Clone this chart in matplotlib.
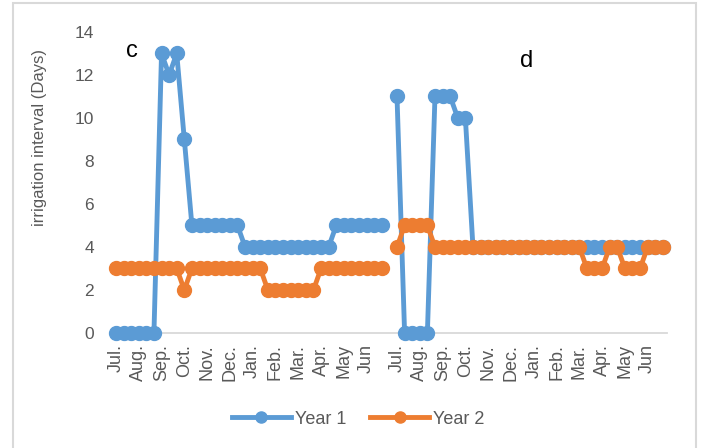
import matplotlib.pyplot as plt
import matplotlib.patches as mpatches
import numpy as np

# Months shown under each of the two panels (3 ten-day periods per month)
months = ['Jul.', 'Aug.', 'Sep.', 'Oct.', 'Nov.', 'Dec.',
          'Jan.', 'Feb.', 'Mar.', 'Apr.', 'May', 'Jun']

# Panel c
year1_c = [0, 0, 0, 0, 0, 0, 13, 12, 13, 9, 5, 5, 5, 5, 5, 5, 5,
           4, 4, 4, 4, 4, 4, 4, 4, 4, 4, 4, 4, 5, 5, 5, 5, 5, 5, 5]
year2_c = [3, 3, 3, 3, 3, 3, 3, 3, 3, 2, 3, 3, 3, 3, 3, 3, 3, 3, 3, 3,
           2, 2, 2, 2, 2, 2, 2, 3, 3, 3, 3, 3, 3, 3, 3, 3]

# Panel d
year1_d = [11, 0, 0, 0, 0, 11, 11, 11, 10, 10, 4, 4, 4, 4, 4, 4, 4, 4,
           4, 4, 4, 4, 4, 4, 4, 4, 4, 4, 4, 4, 4, 4, 4, 4, 4, 4]
year2_d = [4, 5, 5, 5, 5, 4, 4, 4, 4, 4, 4, 4, 4, 4, 4, 4, 4, 4, 4, 4,
           4, 4, 4, 4, 4, 3, 3, 3, 4, 4, 3, 3, 3, 4, 4, 4]

blue = '#5B9BD5'
orange = '#ED7D31'
grey = '#595959'

plt.rcParams['font.family'] = ['Liberation Sans', 'DejaVu Sans']

# join the two panels on one category axis with an empty slot between
gap = [np.nan]
year1 = np.array(year1_c + gap + year1_d, dtype=float)
year2 = np.array(year2_c + gap + year2_d, dtype=float)
x = np.arange(len(year1))

n = len(year1_c)
tick_pos = list(range(0, n, 3)) + list(range(n + 1, 2 * n + 1, 3))
tick_lab = months + months

fig = plt.figure(figsize=(7.01, 4.48), dpi=100)
ax = fig.add_axes([0.160, 0.2567, 0.791, 0.672])

ax.plot(x, year1, color=blue, lw=3.5, marker='o', ms=10, label='Year 1',
        clip_on=False, solid_joinstyle='round')
ax.plot(x, year2, color=orange, lw=3.5, marker='o', ms=10, label='Year 2',
        clip_on=False, solid_joinstyle='round')

ax.set_xlim(-0.5, len(x) - 0.5)
ax.set_ylim(0, 14)
ax.set_yticks(range(0, 15, 2))
ax.set_xticks(tick_pos)
ax.set_xticklabels(tick_lab, rotation=90, va='top', ha='center')
ax.tick_params(axis='x', length=0, pad=8, labelsize=13, labelcolor=grey)
ax.tick_params(axis='y', length=0, pad=13, labelsize=12.5, labelcolor=grey)

for s in ['top', 'right', 'left']:
    ax.spines[s].set_visible(False)
ax.spines['bottom'].set_color('#D9D9D9')
ax.spines['bottom'].set_linewidth(1.3)
ax.spines['bottom'].set_zorder(0)

# panel letters
ax.text(2.1, 13.1, 'c', fontsize=17, ha='center', va='center', color='black')
ax.text(54.0, 12.65, 'd', fontsize=17, ha='center', va='center', color='black')

fig.text(40 / 701, 1 - 137 / 448, 'irrigation interval (Days)', rotation=90,
         ha='center', va='center', fontsize=12, color=grey)

fig.legend(loc='center', bbox_to_anchor=(358 / 701, 1 - 419 / 448), ncol=2,
           frameon=False, fontsize=13, handlelength=3.3, handletextpad=0.2,
           columnspacing=1.3, markerscale=0.8, labelcolor=grey)

# chart area border
border = mpatches.Rectangle((13 / 701, -0.05), 683 / 701, 1.05 - 3 / 448,
                            transform=fig.transFigure, fill=False,
                            edgecolor='#D9D9D9', lw=1.5, clip_on=False)
fig.patches.append(border)

fig.savefig('out.png', dpi=100)
